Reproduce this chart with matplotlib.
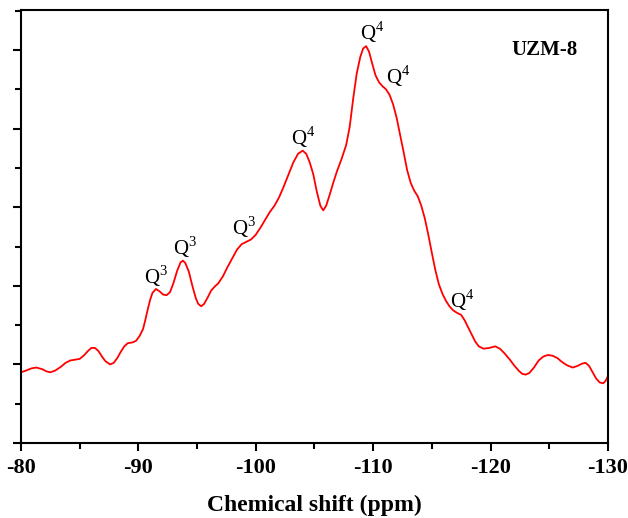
import matplotlib.pyplot as plt
from matplotlib.ticker import MultipleLocator, NullFormatter

plt.rcParams['font.family'] = 'Liberation Serif'
plt.rcParams['mathtext.fontset'] = 'custom'
plt.rcParams['mathtext.rm'] = 'Liberation Serif'
plt.rcParams['axes.unicode_minus'] = False

# chemical shift (ppm) and intensity
shift = [-80.0, -80.4, -80.9, -81.3, -81.8, -82.2, -82.5, -82.9, -83.4, -83.8,
         -84.2, -84.6, -85.0, -85.4, -85.7, -86.0, -86.3, -86.6, -86.9, -87.2,
         -87.6, -87.9, -88.2, -88.5, -88.8, -89.1, -89.5, -89.8, -90.1, -90.4,
         -90.6, -90.8, -91.0, -91.2, -91.5, -91.8, -92.1, -92.4, -92.7, -93.0,
         -93.3, -93.6, -93.8, -94.0, -94.3, -94.6, -94.9, -95.1, -95.35, -95.6,
         -95.9, -96.2, -96.5, -96.8, -97.2, -97.6, -98.0, -98.4, -98.8, -99.2,
         -99.6, -100.0, -100.4, -100.8, -101.2, -101.6, -102.0, -102.4, -102.8, -103.2,
         -103.6, -104.0, -104.3, -104.6, -104.9, -105.2, -105.5, -105.75, -106.0, -106.3,
         -106.6, -106.9, -107.3, -107.7, -108.0, -108.3, -108.6, -108.9, -109.15, -109.4,
         -109.65, -109.9, -110.2, -110.5, -110.8, -111.1, -111.4, -111.7, -112.0, -112.3,
         -112.6, -112.9, -113.2, -113.5, -113.8, -114.1, -114.4, -114.7, -115.0, -115.3,
         -115.6, -115.9, -116.2, -116.5, -116.8, -117.1, -117.5, -117.8, -118.1, -118.4,
         -118.7, -119.0, -119.4, -119.9, -120.4, -120.8, -121.2, -121.65, -122.0, -122.4,
         -122.7, -123.0, -123.3, -123.7, -124.1, -124.5, -124.9, -125.3, -125.7, -126.1,
         -126.5, -127.0, -127.4, -127.8, -128.1, -128.4, -128.7, -129.0, -129.3, -129.6,
         -129.8, -130.0]
intensity = [0.90, 0.92, 0.95, 0.96, 0.94, 0.91, 0.90, 0.92, 0.97, 1.02,
             1.05, 1.06, 1.07, 1.12, 1.17, 1.21, 1.21, 1.17, 1.10, 1.04,
             1.00, 1.02, 1.08, 1.16, 1.23, 1.27, 1.28, 1.30, 1.36, 1.45,
             1.57, 1.70, 1.82, 1.91, 1.96, 1.93, 1.89, 1.88, 1.92, 2.04,
             2.19, 2.30, 2.32, 2.29, 2.18, 2.00, 1.84, 1.77, 1.74, 1.77,
             1.85, 1.94, 1.99, 2.03, 2.12, 2.24, 2.35, 2.46, 2.53, 2.56,
             2.59, 2.65, 2.74, 2.84, 2.94, 3.02, 3.13, 3.27, 3.42, 3.57,
             3.68, 3.72, 3.68, 3.57, 3.42, 3.20, 3.02, 2.96, 3.02, 3.16,
             3.31, 3.45, 3.61, 3.79, 4.02, 4.38, 4.70, 4.91, 5.02, 5.05,
             4.98, 4.84, 4.68, 4.59, 4.54, 4.50, 4.43, 4.31, 4.14, 3.92,
             3.70, 3.47, 3.31, 3.21, 3.14, 3.02, 2.86, 2.65, 2.42, 2.20,
             2.02, 1.90, 1.81, 1.74, 1.69, 1.66, 1.63, 1.56, 1.47, 1.38,
             1.29, 1.23, 1.20, 1.21, 1.23, 1.20, 1.14, 1.06, 0.99, 0.92,
             0.88, 0.87, 0.89, 0.96, 1.05, 1.10, 1.12, 1.11, 1.08, 1.03,
             0.99, 0.96, 0.98, 1.01, 1.02, 0.98, 0.90, 0.82, 0.77, 0.76,
             0.79, 0.85]

# peak labels: text, x, y
peak_labels = ['Q$^{\\mathregular{3}}$', 'Q$^{\\mathregular{3}}$', 'Q$^{\\mathregular{3}}$',
               'Q$^{\\mathregular{4}}$', 'Q$^{\\mathregular{4}}$', 'Q$^{\\mathregular{4}}$',
               'Q$^{\\mathregular{4}}$']
label_x = [-91.5, -94.0, -99.0, -104.0, -109.9, -112.1, -117.6]
label_y = [1.96, 2.33, 2.58, 3.73, 5.07, 4.5, 1.65]

fig = plt.figure(figsize=(6.28, 5.18), dpi=100)
ax = fig.add_axes([0.0334, 0.1448, 0.9346, 0.8359])
ax.plot(shift, intensity, color='red', lw=1.3)

for t, x, y in zip(peak_labels, label_x, label_y):
    ax.text(x, y, t, fontsize=15, ha='center', va='bottom')

ax.text(-124.6, 5.0, 'UZM-8', fontsize=15, fontweight='bold', ha='center', va='center')

ax.set_xlim(-80, -130)
ax.set_ylim(0, 5.51)
ax.xaxis.set_major_locator(MultipleLocator(10))
ax.xaxis.set_minor_locator(MultipleLocator(5))
ax.yaxis.set_major_locator(MultipleLocator(1))
ax.yaxis.set_minor_locator(MultipleLocator(0.5))
ax.yaxis.set_major_formatter(NullFormatter())
ax.tick_params(which='major', length=6, width=1.5, direction='out')
ax.tick_params(which='minor', length=4, width=1.5, direction='out')
ax.tick_params(axis='x', labelsize=16, pad=5)
for lbl in ax.get_xticklabels():
    lbl.set_fontweight('bold')
for s in ax.spines.values():
    s.set_linewidth(1.5)
ax.set_xlabel('Chemical shift (ppm)', fontsize=17, fontweight='bold', labelpad=12)

fig.savefig('out.png', dpi=100)
